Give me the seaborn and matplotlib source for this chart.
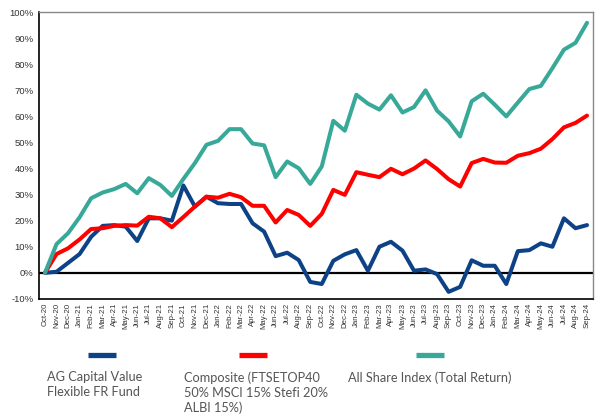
import pandas as pd
import matplotlib.pyplot as plt
import seaborn as sns
from matplotlib.lines import Line2D
from matplotlib.ticker import FuncFormatter

sns.set_style("white")
plt.rcParams["font.family"] = ["Liberation Sans", "DejaVu Sans"]

months = ["Oct-20", "Nov-20", "Dec-20", "Jan-21", "Feb-21", "Mar-21", "Apr-21", "May-21",
          "Jun-21", "Jul-21", "Aug-21", "Sep-21", "Oct-21", "Nov-21", "Dec-21", "Jan-22",
          "Feb-22", "Mar-22", "Apr-22", "May-22", "Jun-22", "Jul-22", "Aug-22", "Sep-22",
          "Oct-22", "Nov-22", "Dec-22", "Jan-23", "Feb-23", "Mar-23", "Apr-23", "May-23",
          "Jun-23", "Jul-23", "Aug-23", "Sep-23", "Oct-23", "Nov-23", "Dec-23", "Jan-24",
          "Feb-24", "Mar-24", "Apr-24", "May-24", "Jun-24", "Jul-24", "Aug-24", "Sep-24"]

# cumulative returns, %
fund = [0, 0.4, 3.8, 7.2, 13.8, 18.0, 18.3, 17.7, 12.2, 20.9, 20.9, 20.0,
        33.5, 25.4, 29.2, 26.7, 26.4, 26.4, 19.0, 15.8, 6.4, 7.7, 4.9, -3.5,
        -4.3, 4.6, 7.1, 8.7, 0.8, 10.0, 11.9, 8.5, 0.8, 1.3, -0.5, -7.3,
        -5.4, 4.8, 2.7, 2.7, -4.3, 8.3, 8.7, 11.3, 10.0, 20.9, 17.1, 18.3]
composite = [0, 7.2, 9.4, 12.8, 16.8, 17.1, 18.0, 18.3, 18.1, 21.5, 20.9, 17.5,
             21.4, 25.4, 29.2, 28.8, 30.3, 29.0, 25.7, 25.7, 19.3, 24.1, 22.2, 18.0,
             22.6, 31.8, 29.9, 38.6, 37.6, 36.7, 39.9, 37.8, 40.0, 43.1, 39.8, 35.9,
             33.1, 42.1, 43.7, 42.3, 42.2, 44.9, 45.9, 47.6, 51.3, 55.8, 57.5, 60.3]
alsi = [0, 11.0, 15.2, 21.3, 28.6, 30.8, 32.1, 34.1, 30.5, 36.3, 33.7, 29.5,
        36.0, 42.1, 49.1, 50.6, 55.1, 55.1, 49.6, 48.9, 36.7, 42.7, 40.1, 34.1,
        40.8, 58.3, 54.5, 68.3, 64.9, 62.6, 68.1, 61.5, 63.6, 70.0, 62.2, 58.1,
        52.3, 65.8, 68.7, 64.5, 60.0, 65.3, 70.5, 71.7, 78.5, 85.6, 88.2, 95.9]

labels = ["AG Capital Value\nFlexible FR Fund",
          "Composite (FTSETOP40\n50% MSCI 15% Stefi 20%\nALBI 15%)",
          "All Share Index (Total Return)"]
colors = ["#0D4386", "#FF0000", "#38A898"]

df = pd.DataFrame({"idx": list(range(len(months))) * 3,
                   "value": fund + composite + alsi,
                   "series": [labels[0]] * len(months) + [labels[1]] * len(months)
                             + [labels[2]] * len(months)})

fig = plt.figure(figsize=(6.13, 4.18), dpi=100)
ax = fig.add_axes([0.064, 0.285, 0.903, 0.686])

sns.lineplot(data=df, x="idx", y="value", hue="series", hue_order=labels,
             palette=colors, linewidth=2.9, legend=False, ax=ax)
ax.axhline(0, color="black", linewidth=1.6, zorder=1)

ax.set_xlim(-0.5, len(months) - 0.5)
ax.set_ylim(-10, 100)
ax.set_yticks(range(-10, 101, 10))
ax.yaxis.set_major_formatter(FuncFormatter(lambda v, p: f"{v:.0f}%"))
ax.set_xticks(range(len(months)))
ax.set_xticklabels(months, rotation=90)
ax.tick_params(axis="x", length=0, labelsize=5.6, pad=3, colors="#333333")
ax.tick_params(axis="y", length=0, labelsize=6.8, pad=4, colors="#333333")
ax.set_xlabel("")
ax.set_ylabel("")

for side in ["left", "bottom"]:
    ax.spines[side].set_color("black")
    ax.spines[side].set_linewidth(1.2)
for side in ["top", "right"]:
    ax.spines[side].set_color("#888888")
    ax.spines[side].set_linewidth(1.0)

# legend: handle above text
W, H = 613, 418
handle_x = [102, 253, 430]
text_x = [47, 184, 348]
for hx, tx, lab, col in zip(handle_x, text_x, labels, colors):
    fig.add_artist(Line2D([(hx - 14) / W, (hx + 14) / W], [1 - 355 / H, 1 - 355 / H],
                          color=col, linewidth=3.8, solid_capstyle="butt"))
    fig.text(tx / W, 1 - 371 / H, lab, ha="left", va="top", fontsize=9.2,
             color="#555555", family=["Lato", "DejaVu Sans"], linespacing=1.3)

fig.savefig("out.png", dpi=100)
